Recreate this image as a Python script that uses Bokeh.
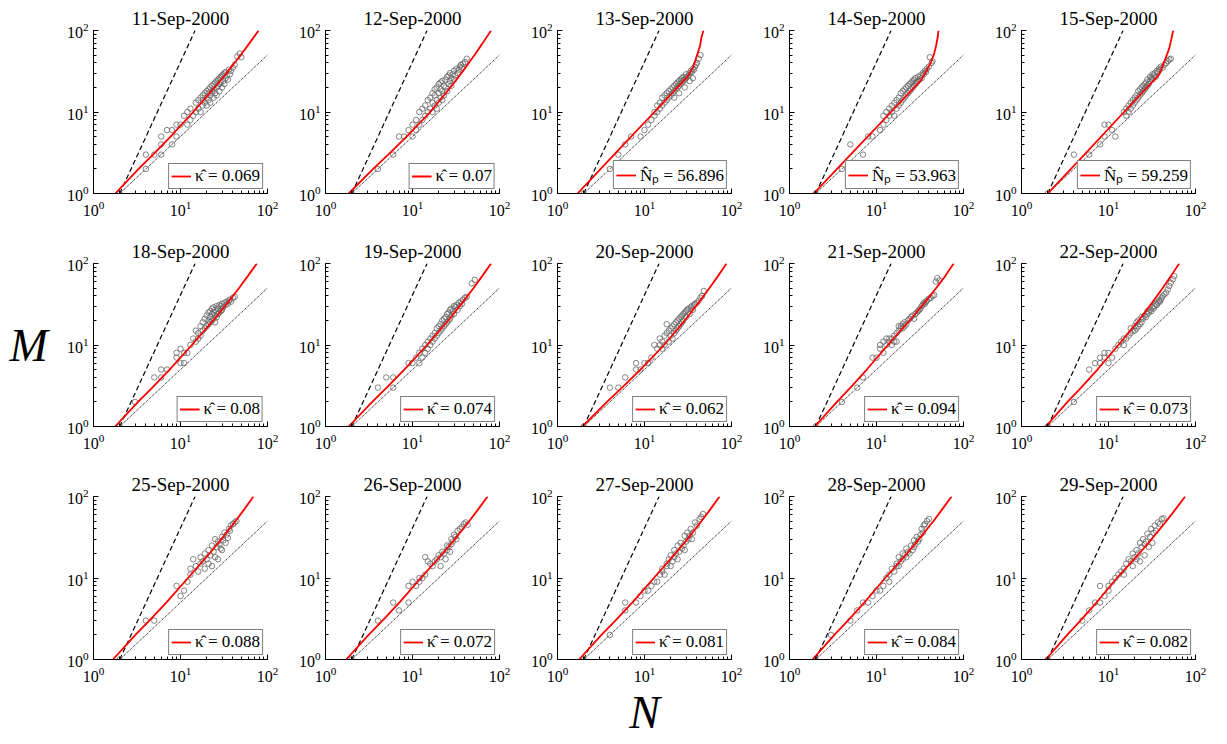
from bokeh.plotting import figure
from bokeh.layouts import column, row
from bokeh.models import Legend, LegendItem, Range1d
from bokeh.embed import file_html
from bokeh.resources import INLINE

DATES = ["11-Sep-2000", "12-Sep-2000", "13-Sep-2000", "14-Sep-2000", "15-Sep-2000",
         "18-Sep-2000", "19-Sep-2000", "20-Sep-2000", "21-Sep-2000", "22-Sep-2000",
         "25-Sep-2000", "26-Sep-2000", "27-Sep-2000", "28-Sep-2000", "29-Sep-2000"]

KH = "\u03ba\u0302"
NPH = "N\u0302\u209a"
LEGEND_LABELS = [KH + " = 0.069", KH + " = 0.07", NPH + " = 56.896", NPH + " = 53.963", NPH + " = 59.259",
                 KH + " = 0.08", KH + " = 0.074", KH + " = 0.062", KH + " = 0.094", KH + " = 0.073",
                 KH + " = 0.088", KH + " = 0.072", KH + " = 0.081", KH + " = 0.084", KH + " = 0.082"]

# reference lines
DASH_N = [2, 14.7]
DASH_M = [1, 100]
DOT_N = [2, 100]
DOT_M = [1, 50]

# observed (N, M) per day
N_11SEP = [2,4,4,5,6,6,6,7,8,8,9,9,10,11,12,12,13,13,14,15,15,16,16,17,17,18,18,18,19,19,20,20,20,21,21,21,22,22,22,23,23,24,24,24,25,25,26,26,26,27,27,28,28,28,29,29,30,30,31,31,32,32,33,33,34,35,36,37,38,40,42,45,48,50]
M_11SEP = [1,2,3,3,3,4,5,6,4,6,5,7,7,9,7,10,8,11,9,10,13,11,14,10,15,12,14,16,13,17,12,15,18,14,17,19,13,16,20,18,21,15,19,22,17,23,16,20,24,21,25,18,22,26,23,27,20,28,24,29,22,30,26,31,28,25,33,29,32,35,38,48,52,47]
N_12SEP = [2,4,6,7,8,9,10,10,11,11,12,12,13,13,14,14,15,15,16,16,17,17,17,18,18,18,19,19,19,20,20,20,21,21,21,22,22,22,23,23,24,24,25,25,26,26,27,27,28,28,29,30,30,31,32,33,34,35,36,37,38,40,42]
M_12SEP = [1,2,3,5,5,6,5,7,6,8,7,10,8,11,9,12,10,14,11,15,10,13,17,12,16,19,11,14,20,13,17,22,15,19,23,14,18,24,16,21,20,25,18,27,22,28,24,30,21,26,29,25,32,28,34,30,33,36,38,35,39,41,45]
N_13SEP = [2,4,5,6,7,9,10,11,12,13,13,14,14,15,15,16,16,17,17,18,18,19,19,20,20,21,21,22,22,23,23,24,24,25,25,26,26,27,27,28,28,29,30,30,31,32,33,34,35,36,37,38,39,40,42,44,22,25,29,33,36]
M_13SEP = [1,2,3,4,5,5,6,7,8,9,10,10,12,11,13,12,15,13,16,14,17,15,18,16,19,17,20,18,21,19,22,20,23,21,24,22,25,23,26,24,27,25,26,29,27,28,30,32,31,34,33,36,38,40,45,50,15,17,20,24,26]
N_14SEP = [2,4,5,7,8,9,11,12,12,13,13,14,14,15,15,16,16,17,17,18,18,19,19,20,20,21,21,22,22,23,23,24,24,25,25,26,26,27,27,28,28,29,30,30,31,32,33,34,35,36,37,38,40,41,43,44]
M_14SEP = [1,2,4,3,5,5,6,7,9,8,10,9,11,10,12,9,13,11,14,12,15,13,17,14,18,15,19,16,20,17,21,18,22,19,23,20,24,21,25,22,26,23,24,27,25,28,26,30,29,32,31,34,36,47,40,42]
N_15SEP = [2,4,6,8,9,9,10,11,12,15,16,16,17,17,18,18,19,19,20,20,21,21,22,22,23,23,24,24,25,25,26,26,27,27,28,28,29,30,30,31,32,32,33,34,35,36,37,38,39,40,42,44,46,48,50,52]
M_15SEP = [1,3,3,4,5,7,7,6,5,10,9,11,10,12,11,13,12,14,13,15,14,16,15,18,16,19,17,20,18,21,19,22,20,23,21,25,22,24,27,26,25,29,28,30,27,32,31,34,33,36,35,38,40,42,44,45]
N_18SEP = [2,3,5,6,6,7,9,9,10,10,11,11,12,13,14,15,15,16,16,17,17,18,18,19,19,20,20,21,21,21,22,22,22,23,23,23,24,24,24,25,25,25,26,26,27,27,28,28,29,29,30,30,31,32,33,34,35,36,37,38,40,42]
M_18SEP = [1,2,4,4,5,5,7,8,6,9,6,8,8,10,12,11,15,12,14,13,17,15,19,16,21,17,23,18,20,25,19,22,26,20,24,28,21,25,29,19,23,27,22,30,24,28,25,31,26,30,27,32,29,33,31,34,32,35,36,34,38,39]
N_19SEP = [2,4,5,6,6,9,10,11,12,12,13,13,14,14,15,15,16,16,17,17,18,18,19,19,20,20,21,21,22,22,23,23,24,24,25,25,26,26,27,27,28,28,29,30,30,31,32,33,34,35,36,37,38,40,42,48,52]
M_19SEP = [1,3,4,3,4,6,6,7,6,8,9,7,10,8,11,9,12,10,13,11,14,12,16,13,17,14,18,15,20,16,21,17,22,18,24,19,25,20,27,21,28,23,26,30,24,29,31,27,33,30,34,32,36,38,39,57,63]
N_20SEP = [2,4,5,6,8,8,9,10,11,12,13,14,15,15,16,16,17,17,18,18,19,19,20,20,21,21,22,22,23,23,24,24,25,25,26,26,27,27,28,28,29,30,30,31,32,33,34,35,36,37,38,40,42,44,46,48]
M_20SEP = [1,3,3,4,6,5,5,6,6,7,10,9,10,12,11,9,13,10,14,18,15,11,16,13,17,12,18,14,19,15,20,16,21,17,22,18,23,19,24,20,25,26,22,27,28,24,29,30,27,31,32,33,35,38,40,46]
N_21SEP = [2,4,6,7,9,10,11,11,12,12,13,13,14,14,15,15,16,16,17,17,18,18,19,19,20,20,21,21,22,23,24,25,26,27,28,29,30,31,32,33,34,35,36,37,38,40,42,44,46,48,50,53]
M_21SEP = [1,2,3,4,7,7,9,10,8,11,10,12,11,12,10,12,11,13,11,14,15,17,16,17,18,16,17,19,18,20,21,22,23,21,24,25,26,27,28,30,31,33,32,34,35,37,38,40,41,60,66,62]
N_22SEP = [2,4,6,7,8,8,9,9,10,10,11,12,13,14,15,15,16,17,18,18,19,20,20,21,21,22,22,23,24,24,25,26,27,28,28,29,30,31,32,33,34,35,36,37,38,39,40,41,42,44,46,48,50,52,55,57]
M_22SEP = [1,2,5,6,6,7,7,8,6,8,7,9,10,11,10,12,12,13,14,16,15,15,17,16,19,17,20,18,19,22,21,23,22,24,26,25,27,26,29,28,30,32,31,33,35,34,36,38,40,42,44,48,53,58,64,70]
N_25SEP = [2,4,5,9,10,11,12,13,13,14,15,16,17,17,18,19,19,20,21,21,22,23,23,24,25,25,26,27,27,28,29,30,30,31,32,33,34,35,36,37,38,40,42,44]
M_25SEP = [1,3,3,8,6,7,9,11,13,17,14,12,15,18,16,13,20,17,22,15,19,25,14,21,30,18,24,28,17,26,23,32,22,29,36,27,34,31,40,38,44,46,48,50]
N_26SEP = [2,4,6,7,9,9,10,11,12,12,13,14,14,15,16,17,18,19,20,21,21,22,23,24,25,25,26,27,28,28,29,30,31,32,33,35,37,39,41,43]
M_26SEP = [1,3,5,4,8,5,9,8,10,9,10,11,18,16,15,14,16,17,19,14,18,21,20,17,25,22,24,21,30,26,28,34,32,30,38,40,42,46,48,45]
N_27SEP = [2,4,6,6,8,9,10,11,12,13,14,15,16,16,17,18,18,19,20,20,21,22,22,23,24,24,25,26,27,28,29,29,30,31,32,33,34,35,36,38,40,43,45,47]
M_27SEP = [1,2,5,4,5,6,7,7,8,9,9,11,12,13,11,15,14,17,19,14,16,22,18,20,25,17,21,27,23,25,33,22,28,36,30,33,40,30,36,48,44,53,56,61]
N_28SEP = [2,3,5,6,7,8,9,10,11,12,13,14,14,15,16,17,17,18,18,19,20,20,21,22,22,23,24,25,26,27,27,28,29,30,31,32,33,34,35,36,38,40]
M_28SEP = [1,2,3,4,5,5,6,7,7,8,10,11,9,13,12,15,14,18,14,16,20,17,19,23,18,21,20,25,22,29,24,26,32,28,30,34,40,36,44,46,50,53]
N_29SEP = [2,5,6,7,8,8,9,10,10,11,12,13,14,15,15,16,17,18,19,19,20,21,21,22,23,23,24,25,26,26,27,28,29,30,31,32,33,34,35,37,39,41,43]
M_29SEP = [1,3,4,5,5,8,6,7,8,9,10,11,12,13,11,15,17,16,20,14,18,22,17,20,27,16,24,30,19,26,28,35,24,32,40,27,36,44,38,48,46,53,54]

# fitted curves (kappa panels): N read at fixed M levels
RED_M_LEVELS = [1, 2, 3, 5, 10, 20, 30, 50, 70, 100]
RED_N_11SEP = [1.78, 3.30, 4.83, 7.69, 14.0, 24.7, 33.8, 49.2, 62.1, 79.0]
RED_N_12SEP = [1.85, 3.53, 5.26, 8.55, 16.0, 27.3, 36.5, 51.7, 64.1, 80.0]
RED_N_18SEP = [1.77, 3.25, 4.74, 7.49, 13.5, 23.8, 32.5, 47.1, 59.3, 75.4]
RED_N_19SEP = [1.85, 3.44, 5.05, 8.05, 14.7, 25.7, 34.9, 50.4, 63.2, 80.0]
RED_N_20SEP = [1.94, 3.70, 5.52, 8.98, 16.8, 29.0, 39.1, 55.9, 69.8, 87.6]
RED_N_21SEP = [1.95, 3.51, 5.02, 7.74, 13.5, 24.1, 33.2, 48.6, 61.6, 77.0]
RED_N_22SEP = [1.90, 3.38, 4.84, 7.46, 13.0, 22.2, 29.7, 42.0, 52.1, 65.0]
RED_N_25SEP = [1.67, 3.03, 4.38, 6.86, 12.2, 21.6, 29.5, 43.0, 54.2, 69.0]
RED_N_26SEP = [1.73, 3.13, 4.52, 7.05, 12.5, 22.3, 30.7, 45.0, 57.1, 73.0]
RED_N_27SEP = [1.77, 3.20, 4.63, 7.22, 12.8, 22.7, 31.1, 45.4, 57.3, 73.0]
RED_N_28SEP = [1.84, 3.28, 4.69, 7.23, 12.6, 22.5, 30.8, 45.2, 57.1, 73.0]
RED_N_29SEP = [1.90, 3.35, 4.76, 7.27, 12.5, 22.6, 31.3, 46.4, 59.1, 76.0]
# fitted curves (N_p panels)
RED_N_13SEP = [1.7, 5.0, 13.0, 31.0, 36.0, 40.6, 43.5, 45.2, 47.6]
RED_M_13SEP = [1.0, 3.4, 10.0, 26.7, 35.0, 51.7, 65.0, 82.8, 100.0]
RED_N_14SEP = [1.9, 5.0, 14.7, 32.6, 38.0, 42.5, 46.0, 48.5, 50.5, 51.6]
RED_M_14SEP = [1.0, 2.97, 10.0, 24.6, 33.0, 41.3, 52.0, 66.0, 82.0, 100.0]
RED_N_15SEP = [2.0, 5.0, 15.1, 38.2, 44.0, 49.8, 53.0, 55.4]
RED_M_15SEP = [1.0, 2.82, 10.0, 28.8, 42.0, 60.0, 80.0, 100.0]

POINTS = [(N_11SEP, M_11SEP), (N_12SEP, M_12SEP), (N_13SEP, M_13SEP), (N_14SEP, M_14SEP), (N_15SEP, M_15SEP),
          (N_18SEP, M_18SEP), (N_19SEP, M_19SEP), (N_20SEP, M_20SEP), (N_21SEP, M_21SEP), (N_22SEP, M_22SEP),
          (N_25SEP, M_25SEP), (N_26SEP, M_26SEP), (N_27SEP, M_27SEP), (N_28SEP, M_28SEP), (N_29SEP, M_29SEP)]
CURVES = [(RED_N_11SEP, RED_M_LEVELS), (RED_N_12SEP, RED_M_LEVELS), (RED_N_13SEP, RED_M_13SEP),
          (RED_N_14SEP, RED_M_14SEP), (RED_N_15SEP, RED_M_15SEP),
          (RED_N_18SEP, RED_M_LEVELS), (RED_N_19SEP, RED_M_LEVELS), (RED_N_20SEP, RED_M_LEVELS),
          (RED_N_21SEP, RED_M_LEVELS), (RED_N_22SEP, RED_M_LEVELS),
          (RED_N_25SEP, RED_M_LEVELS), (RED_N_26SEP, RED_M_LEVELS), (RED_N_27SEP, RED_M_LEVELS),
          (RED_N_28SEP, RED_M_LEVELS), (RED_N_29SEP, RED_M_LEVELS)]

SERIF = "'Liberation Serif'"


def make_panel(i):
    r, c = divmod(i, 5)
    left = 93 if c == 0 else 44
    top = 30 if r == 0 else 40
    bottom = 84 if r == 2 else 30
    p = figure(x_axis_type="log", y_axis_type="log",
               x_range=Range1d(1, 100), y_range=Range1d(1, 100),
               frame_width=174, frame_height=163,
               min_border_left=left, min_border_right=14,
               min_border_top=top, min_border_bottom=bottom,
               output_backend="svg", toolbar_location=None, title=DATES[i])
    p.title.text_font = SERIF
    p.title.text_font_size = "19px"
    p.title.text_font_style = "normal"
    p.title.text_color = "black"
    p.title.align = "center"
    p.title.standoff = 3
    p.title.offset = 0
    p.outline_line_color = None
    p.xgrid.visible = False
    p.ygrid.visible = False
    p.background_fill_color = None
    p.border_fill_color = None
    for ax in (p.xaxis[0], p.yaxis[0]):
        ax.major_tick_in = 5
        ax.major_tick_out = 0
        ax.minor_tick_in = 3
        ax.minor_tick_out = 0
        ax.axis_line_color = "black"
        ax.major_tick_line_color = "black"
        ax.minor_tick_line_color = "black"
        ax.major_label_text_font = SERIF
        ax.major_label_text_font_size = "16px"
        ax.major_label_text_color = "black"
    p.xaxis.major_label_standoff = 7
    p.yaxis.major_label_standoff = 5

    p.line(DASH_N, DASH_M, line_color="black", line_width=1.2, line_dash="5 3")
    p.line(DOT_N, DOT_M, line_color="black", line_width=1.0, line_dash="1 1")
    n, m = POINTS[i]
    k = min(len(n), len(m))
    p.scatter(n[:k], m[:k], marker="circle", size=5.5, fill_color=None, line_color="#666666", line_width=0.8)
    cn, cm = CURVES[i]
    red = p.line(cn, cm, line_color="red", line_width=1.8)

    legend = Legend(items=[LegendItem(label=LEGEND_LABELS[i], renderers=[red])],
                    location="bottom_right", border_line_color="black", border_line_width=1,
                    background_fill_color="white", background_fill_alpha=1.0,
                    padding=2, margin=4, spacing=0, label_standoff=4,
                    glyph_width=20, glyph_height=16, label_height=16,
                    label_text_font=SERIF, label_text_font_size="17px", label_text_color="black")
    p.add_layout(legend)

    if i == 5:
        p.yaxis.axis_label = "M"
        p.yaxis.axis_label_text_font = SERIF
        p.yaxis.axis_label_text_font_size = "46px"
        p.yaxis.axis_label_text_font_style = "italic"
        p.yaxis.axis_label_text_color = "black"
        p.yaxis.axis_label_standoff = 16
        try:
            p.yaxis.axis_label_orientation = "horizontal"
        except Exception:
            pass
    if i == 12:
        p.xaxis.axis_label = "N"
        p.xaxis.axis_label_text_font = SERIF
        p.xaxis.axis_label_text_font_size = "46px"
        p.xaxis.axis_label_text_font_style = "italic"
        p.xaxis.axis_label_text_color = "black"
        p.xaxis.axis_label_standoff = 2
    return p


panels = [make_panel(i) for i in range(15)]
layout = column(*[row(*panels[r * 5:(r + 1) * 5]) for r in range(3)])

open("out.html", "w").write(file_html(layout, INLINE))
